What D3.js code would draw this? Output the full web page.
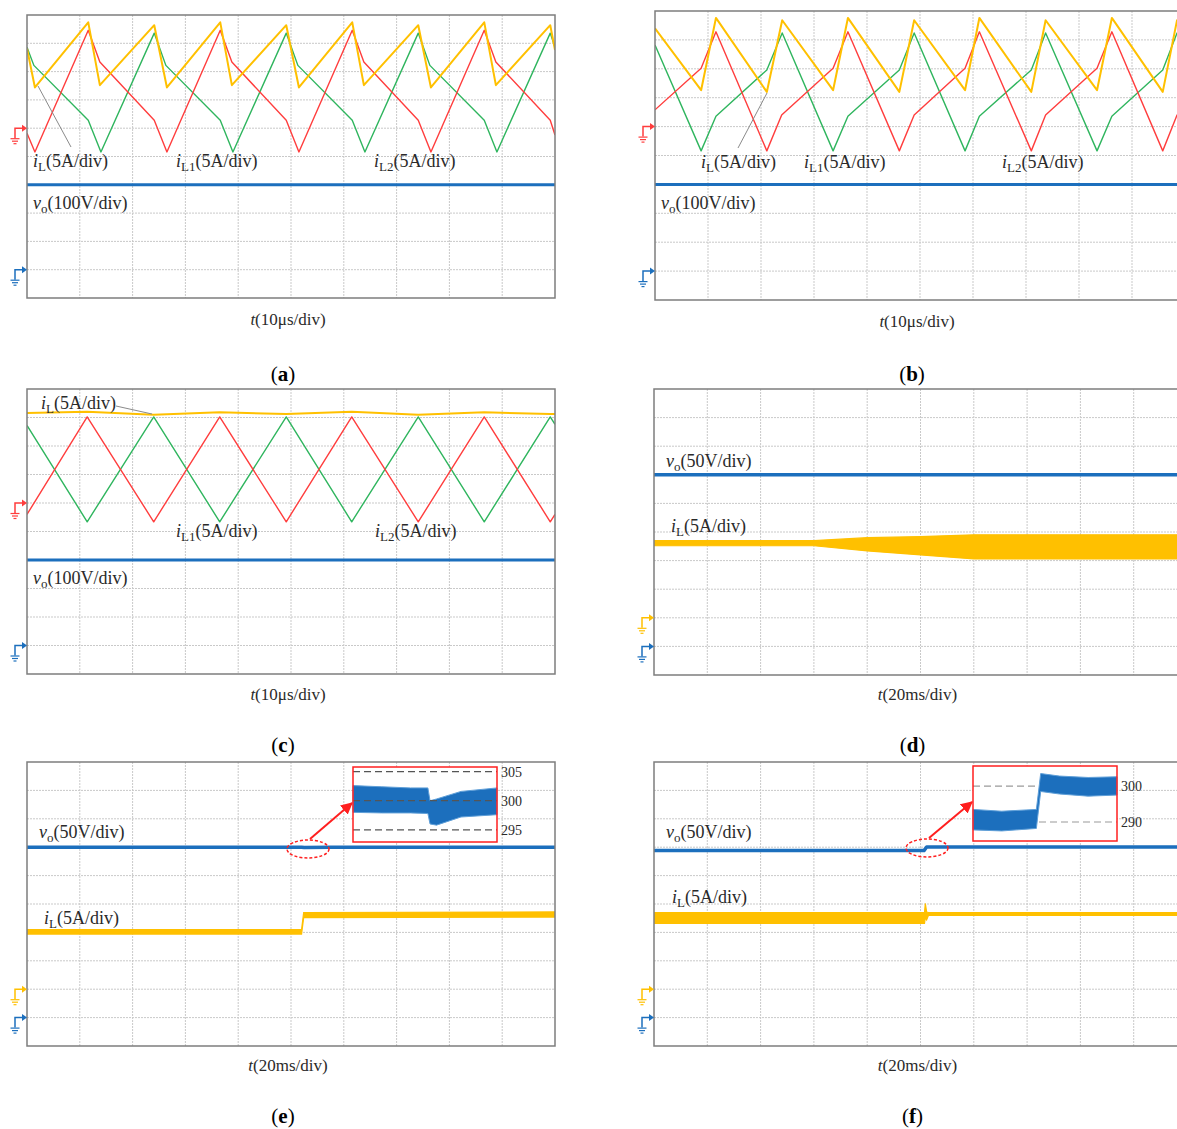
<!DOCTYPE html>
<html>
<head>
<meta charset="UTF-8">
<title>Interleaved boost waveforms</title>
<script src="https://d3js.org/d3.v7.min.js"></script>
<style>
  body { margin: 0; background: #fff; }
  svg { display: block; font-family: "Liberation Serif", "Times New Roman", serif; }
</style>
</head>
<body>
<svg id="fig" width="1177" height="1129"></svg>
<script>

// DATA  (time in us or ms, currents in A from the current ground marker, voltages in V)

// (a) 10us/div
var aIL1 = [[0,-0.9],[1.5,-4.2],[11.6,17.3],[13.8,11.7],[24.1,1.4],[26.5,-4.2],[36.6,17.3],[38.8,11.7],[49.1,1.4],[51.5,-4.2],[61.6,17.3],[63.8,11.7],[74.1,1.4],[76.5,-4.2],[86.6,17.3],[88.8,11.7],[99.1,1.4],[100,-1.2]];
var aIL2 = [[0,14.3],[1.3,11.1],[11.6,1.4],[14.0,-4.2],[24.1,16.8],[26.3,11.1],[36.6,1.4],[39.0,-4.2],[49.1,16.8],[51.3,11.1],[61.6,1.4],[64.0,-4.2],[74.1,16.8],[76.3,11.1],[86.6,1.4],[89.0,-4.2],[99.1,16.8],[100,14.3]];
var aIL  = [[0,14.1],[1.5,7.2],[11.6,18.7],[13.8,7.6],[24.1,18.2],[26.5,7.2],[36.6,18.7],[38.8,7.6],[49.1,18.2],[51.5,7.2],[61.6,18.7],[63.8,7.6],[74.1,18.2],[76.5,7.2],[86.6,18.7],[88.8,7.6],[99.1,18.2],[100,13.8]];
var aVo  = [[0,300],[100,300]];

// (b) 10us/div
var bIL1 = [[0,2.9],[8.7,10.1],[11.5,16.4],[21.1,-4.2],[23.9,2.0],[33.6,10.1],[36.4,16.4],[46.1,-4.2],[48.9,2.0],[58.5,10.1],[61.2,16.4],[71.0,-4.2],[73.7,2.0],[83.4,10.1],[86.2,16.4],[95.8,-4.2],[98.5,2.0],[100,3.2]];
var bIL2 = [[0,14.1],[8.7,-4.2],[11.5,1.8],[21.1,9.8],[24.0,16.2],[33.6,-4.2],[36.4,1.8],[46.1,9.8],[48.9,16.2],[58.5,-4.2],[61.2,1.8],[71.0,9.8],[73.7,16.2],[83.4,-4.2],[86.2,1.8],[95.8,9.8],[98.5,16.2],[100,14.2]];
var bIL  = [[0,17.0],[8.7,6.3],[11.5,18.8],[21.1,6.0],[24.0,18.4],[33.6,6.3],[36.4,18.8],[46.1,6.0],[48.9,18.4],[58.5,6.3],[61.2,18.8],[71.0,6.0],[73.7,18.4],[83.4,6.3],[86.2,18.8],[95.8,6.0],[98.5,18.4],[100,17.5]];
var bVo  = [[0,300],[100,300]];

// (c) 10us/div
var cIL1 = [[0,-2.0],[11.4,15.1],[24.0,-3.3],[36.5,15.1],[49.1,-3.3],[61.5,15.1],[74.1,-3.3],[86.6,15.1],[99.1,-3.3],[100,-2.0]];
var cIL2 = [[0,13.6],[11.4,-3.3],[24.0,15.1],[36.5,-3.3],[49.1,15.1],[61.5,-3.3],[74.1,15.1],[86.6,-3.3],[99.1,15.1],[100,13.8]];
var cIL  = [[0,15.8],[11.4,16.0],[24.0,15.5],[36.5,15.9],[49.1,15.6],[61.5,16.0],[74.1,15.5],[86.6,15.9],[99.1,15.6],[100,15.6]];
var cVo  = [[0,300],[100,300]];

// (d) 20ms/div, iL envelope
var dTime = [0, 60, 80, 100, 120, 200];
var dILHi = [13.5, 13.5, 14.0, 14.2, 14.5, 14.5];
var dILLo = [12.6, 12.6, 11.7, 11.0, 10.3, 10.3];
var dVo   = [[0,300],[200,300]];

// (e) 20ms/div, load step
var eTime = [0, 104, 104.8, 200];
var eILHi = [10.5, 10.5, 13.5, 13.6];
var eILLo = [9.7, 9.7, 12.6, 12.7];
var eVo   = [[0,300],[104,300],[105,299.3],[115,299.8],[200,300]];
var eZoomT  = [0, 20, 40, 52, 53.5, 58, 75, 100];
var eZoomHi = [302.6, 302.4, 302.2, 302.2, 300.0, 300.3, 301.6, 302.2];
var eZoomLo = [298.0, 297.9, 297.9, 297.8, 296.0, 295.8, 297.2, 297.6];
var eZoomTicks = [295, 300, 305];

// (f) 20ms/div, reference step
var fTime = [0, 101.5, 101.8, 102.3, 103, 200];
var fILHi = [13.5, 13.5, 15.1, 13.6, 13.5, 13.5];
var fILLo = [11.6, 11.6, 12.6, 12.2, 13.0, 13.0];
var fVo   = [[0,294],[101.3,294],[102.3,300.5],[200,300.5]];
var fZoomT  = [0, 20, 44, 47, 60, 80, 100];
var fZoomHi = [293.5, 293.0, 293.5, 303.5, 302.8, 302.4, 302.6];
var fZoomLo = [287.8, 287.5, 288.2, 298.5, 297.8, 297.2, 297.5];
var fZoomTicks = [290, 300];


// SETUP

var svg = d3.select("#fig");
svg.append("rect").attr("width", 1177).attr("height", 1129).attr("fill", "#fff");

var C = {
  red: "#ff3d3d", green: "#2fb55e", yellow: "#ffc000", blue: "#1c6fbd",
  grid: "#c9c9c9", frame: "#7d7d7d", text: "#2a2a2a", arrow: "#ff1f1f"
};

var defs = svg.append("defs");
defs.append("marker").attr("id", "ah").attr("viewBox", "0 0 10 10")
  .attr("refX", 9).attr("refY", 5).attr("markerWidth", 6).attr("markerHeight", 6)
  .attr("orient", "auto")
  .append("path").attr("d", "M0,0L10,5L0,10z").attr("fill", C.arrow);

function makePanel(p) {
  var w = p.colW * 10, h = p.rowH * 10;
  var x = d3.scaleLinear().domain([0, 10 * p.tDiv]).range([p.x0, p.x0 + w]);
  var row = d3.scaleLinear().domain([0, 10]).range([p.y0, p.y0 + h]);
  var yI = d3.scaleLinear().domain([0, 5]).range([row(p.iGnd), row(p.iGnd) - p.rowH]);
  var yV = d3.scaleLinear().domain([0, p.vDiv]).range([row(9), row(9) - p.rowH]);

  var g = svg.append("g");

  // grid
  g.selectAll(".vg").data(x.ticks(10).slice(1, 10)).enter().append("line")
    .attr("x1", function (d) { return x(d); }).attr("x2", function (d) { return x(d); })
    .attr("y1", p.y0).attr("y2", p.y0 + h)
    .attr("stroke", C.grid).attr("stroke-width", 1).attr("stroke-dasharray", "2,1");
  g.selectAll(".hg").data(d3.range(1, 10)).enter().append("line")
    .attr("x1", p.x0).attr("x2", p.x0 + w)
    .attr("y1", function (d) { return row(d); }).attr("y2", function (d) { return row(d); })
    .attr("stroke", C.grid).attr("stroke-width", 1).attr("stroke-dasharray", "2,1");

  defs.append("clipPath").attr("id", "clip-" + p.id)
    .append("rect").attr("x", p.x0).attr("y", p.y0).attr("width", w).attr("height", h);
  var plot = g.append("g").attr("clip-path", "url(#clip-" + p.id + ")");

  g.append("rect").attr("x", p.x0).attr("y", p.y0).attr("width", w).attr("height", h)
    .attr("fill", "none").attr("stroke", C.frame).attr("stroke-width", 1.5);

  // ground markers
  groundMark(g, p.x0, row(p.iGnd), p.iCol);
  groundMark(g, p.x0, row(9), C.blue);

  // captions
  var cx = p.x0 + 5 * p.colW - 3;
  var cap = g.append("text").attr("x", cx).attr("y", p.capY)
    .attr("text-anchor", "middle").attr("font-size", 17).attr("fill", C.text);
  cap.append("tspan").attr("font-style", "italic").text("t");
  cap.append("tspan").text("(" + p.tUnit + "/div)");

  var lab = g.append("text").attr("x", cx - 5).attr("y", p.labY)
    .attr("text-anchor", "middle").attr("font-size", 21).attr("fill", "#000");
  lab.append("tspan").text("(");
  lab.append("tspan").attr("font-weight", "bold").text(p.id);
  lab.append("tspan").text(")");

  return { g: g, plot: plot, x: x, yI: yI, yV: yV, row: row };
}

function groundMark(g, xb, y, col) {
  var xs = xb - 12;
  g.append("path").attr("d", "M" + xs + "," + (y + 10) + "V" + y + "H" + (xb - 4))
    .attr("fill", "none").attr("stroke", col).attr("stroke-width", 1.5);
  g.append("path").attr("d", "M" + (xb - 5) + "," + (y - 3.5) + "L" + (xb) + "," + y + "L" + (xb - 5) + "," + (y + 3.5) + "z")
    .attr("fill", col);
  [[4.5, 10.5], [3, 13], [1.5, 15.5]].forEach(function (s) {
    g.append("line").attr("x1", xs - s[0]).attr("x2", xs + s[0])
      .attr("y1", y + s[1]).attr("y2", y + s[1])
      .attr("stroke", col).attr("stroke-width", 1.2);
  });
}

function trace(P, data, y, col, wd) {
  var line = d3.line().x(function (d) { return P.x(d[0]); }).y(function (d) { return y(d[1]); });
  P.plot.append("path").datum(data).attr("d", line)
    .attr("fill", "none").attr("stroke", col).attr("stroke-width", wd)
    .attr("stroke-linejoin", "round");
}

function band(P, T, hi, lo, y, col) {
  var rows = T.map(function (t, i) { return { t: t, hi: hi[i], lo: lo[i] }; });
  var area = d3.area().x(function (d) { return P.x(d.t); })
    .y0(function (d) { return y(d.lo); }).y1(function (d) { return y(d.hi); });
  P.plot.append("path").datum(rows).attr("d", area)
    .attr("fill", col).attr("stroke", col).attr("stroke-width", 1.2);
}

function sigLabel(g, x, y, sym, sub, rest) {
  var t = g.append("text").attr("x", x).attr("y", y).attr("font-size", 18).attr("fill", C.text);
  t.append("tspan").attr("font-style", "italic").text(sym);
  t.append("tspan").attr("font-size", 13).attr("dy", 4).text(sub);
  t.append("tspan").attr("dy", -4).text(rest);
}

function leader(g, x1, y1, x2, y2) {
  g.append("line").attr("x1", x1).attr("y1", y1).attr("x2", x2).attr("y2", y2)
    .attr("stroke", "#8a8a8a").attr("stroke-width", 1);
}

function zoomBox(g, box, T, hi, lo, ticks, dom, linesOnTop) {
  var zx = d3.scaleLinear().domain([0, 100]).range([box[0], box[2]]);
  var zy = d3.scaleLinear().domain(dom).range([box[3], box[1]]);
  g.append("rect").attr("x", box[0]).attr("y", box[1])
    .attr("width", box[2] - box[0]).attr("height", box[3] - box[1]).attr("fill", "#fff");
  function dashes() {
    g.selectAll(null).data(ticks).enter().append("line")
      .attr("x1", box[0]).attr("x2", box[2])
      .attr("y1", function (d) { return zy(d); }).attr("y2", function (d) { return zy(d); })
      .attr("stroke", linesOnTop ? "#555" : "#9a9a9a").attr("stroke-width", 1.2)
      .attr("stroke-dasharray", "7,4");
  }
  if (!linesOnTop) dashes();
  var rows = T.map(function (t, i) { return { t: t, hi: hi[i], lo: lo[i] }; });
  g.append("path").datum(rows)
    .attr("d", d3.area().x(function (d) { return zx(d.t); })
      .y0(function (d) { return zy(d.lo); }).y1(function (d) { return zy(d.hi); }))
    .attr("fill", C.blue).attr("stroke", "#5f9fd8").attr("stroke-width", 1);
  if (linesOnTop) dashes();
  g.append("rect").attr("x", box[0]).attr("y", box[1])
    .attr("width", box[2] - box[0]).attr("height", box[3] - box[1])
    .attr("fill", "none").attr("stroke", C.arrow).attr("stroke-width", 1.5);
  g.selectAll(null).data(ticks).enter().append("text")
    .attr("x", box[2] + 4).attr("y", function (d) { return zy(d) + 5; })
    .attr("font-size", 14).attr("fill", C.text).text(function (d) { return d; });
}

function callout(g, cx, cy, box) {
  g.append("ellipse").attr("cx", cx).attr("cy", cy).attr("rx", 21).attr("ry", 9)
    .attr("fill", "none").attr("stroke", C.arrow).attr("stroke-width", 1.5)
    .attr("stroke-dasharray", "3,2");
  g.append("line").attr("x1", cx + 2).attr("y1", cy - 10)
    .attr("x2", box[0] - 1).attr("y2", box[1] + 36)
    .attr("stroke", C.arrow).attr("stroke-width", 2).attr("marker-end", "url(#ah)");
}


// DRAWING

// (a)
var A = makePanel({ id: "a", x0: 27, y0: 15, colW: 52.8, rowH: 28.3, tDiv: 10, tUnit: "10\u03bcs",
  iGnd: 4, vDiv: 100, iCol: C.red, capY: 325, labY: 381 });
trace(A, aVo, A.yV, C.blue, 3);
trace(A, aIL2, A.yI, C.green, 1.4);
trace(A, aIL1, A.yI, C.red, 1.4);
trace(A, aIL, A.yI, C.yellow, 2);
leader(A.g, 71, 147, 38, 86);
sigLabel(A.g, 33, 167, "i", "L", "(5A/div)");
sigLabel(A.g, 176, 167, "i", "L1", "(5A/div)");
sigLabel(A.g, 374, 167, "i", "L2", "(5A/div)");
sigLabel(A.g, 33, 209, "v", "o", "(100V/div)");

// (b)
var B = makePanel({ id: "b", x0: 655, y0: 11, colW: 53, rowH: 28.9, tDiv: 10, tUnit: "10\u03bcs",
  iGnd: 4, vDiv: 100, iCol: C.red, capY: 327, labY: 381 });
trace(B, bVo, B.yV, C.blue, 3);
trace(B, bIL2, B.yI, C.green, 1.4);
trace(B, bIL1, B.yI, C.red, 1.4);
trace(B, bIL, B.yI, C.yellow, 2);
leader(B.g, 738, 148, 767, 93);
sigLabel(B.g, 701, 168, "i", "L", "(5A/div)");
sigLabel(B.g, 804, 168, "i", "L1", "(5A/div)");
sigLabel(B.g, 1002, 168, "i", "L2", "(5A/div)");
sigLabel(B.g, 661, 209, "v", "o", "(100V/div)");

// (c)
var Cc = makePanel({ id: "c", x0: 27, y0: 389, colW: 52.8, rowH: 28.5, tDiv: 10, tUnit: "10\u03bcs",
  iGnd: 4, vDiv: 100, iCol: C.red, capY: 700, labY: 752 });
trace(Cc, cVo, Cc.yV, C.blue, 3);
trace(Cc, cIL2, Cc.yI, C.green, 1.4);
trace(Cc, cIL1, Cc.yI, C.red, 1.4);
trace(Cc, cIL, Cc.yI, C.yellow, 2);
leader(Cc.g, 116, 406, 152, 414);
sigLabel(Cc.g, 41, 409, "i", "L", "(5A/div)");
sigLabel(Cc.g, 176, 537, "i", "L1", "(5A/div)");
sigLabel(Cc.g, 375, 537, "i", "L2", "(5A/div)");
sigLabel(Cc.g, 33, 584, "v", "o", "(100V/div)");

// (d)
var D = makePanel({ id: "d", x0: 654, y0: 389, colW: 53.3, rowH: 28.6, tDiv: 20, tUnit: "20ms",
  iGnd: 8, vDiv: 50, iCol: C.yellow, capY: 700, labY: 752 });
trace(D, dVo, D.yV, C.blue, 3.5);
band(D, dTime, dILHi, dILLo, D.yI, C.yellow);
sigLabel(D.g, 666, 467, "v", "o", "(50V/div)");
sigLabel(D.g, 671, 532, "i", "L", "(5A/div)");

// (e)
var E = makePanel({ id: "e", x0: 27, y0: 762, colW: 52.8, rowH: 28.4, tDiv: 20, tUnit: "20ms",
  iGnd: 8, vDiv: 50, iCol: C.yellow, capY: 1071, labY: 1123 });
trace(E, eVo, E.yV, C.blue, 3.5);
band(E, eTime, eILHi, eILLo, E.yI, C.yellow);
sigLabel(E.g, 39, 838, "v", "o", "(50V/div)");
sigLabel(E.g, 44, 924, "i", "L", "(5A/div)");
var eBox = [353, 767, 497, 842];
callout(E.g, 308, 849, eBox);
zoomBox(E.g, eBox, eZoomT, eZoomHi, eZoomLo, eZoomTicks, [292.9, 305.8], true);

// (f)
var F = makePanel({ id: "f", x0: 654, y0: 762, colW: 53.3, rowH: 28.4, tDiv: 20, tUnit: "20ms",
  iGnd: 8, vDiv: 50, iCol: C.yellow, capY: 1071, labY: 1123 });
trace(F, fVo, F.yV, C.blue, 3.5);
band(F, fTime, fILHi, fILLo, F.yI, C.yellow);
sigLabel(F.g, 666, 838, "v", "o", "(50V/div)");
sigLabel(F.g, 672, 903, "i", "L", "(5A/div)");
var fBox = [973, 766, 1117, 841];
callout(F.g, 927, 848, fBox);
zoomBox(F.g, fBox, fZoomT, fZoomHi, fZoomLo, fZoomTicks, [284.7, 305.6], false);

</script>
</body>
</html>
